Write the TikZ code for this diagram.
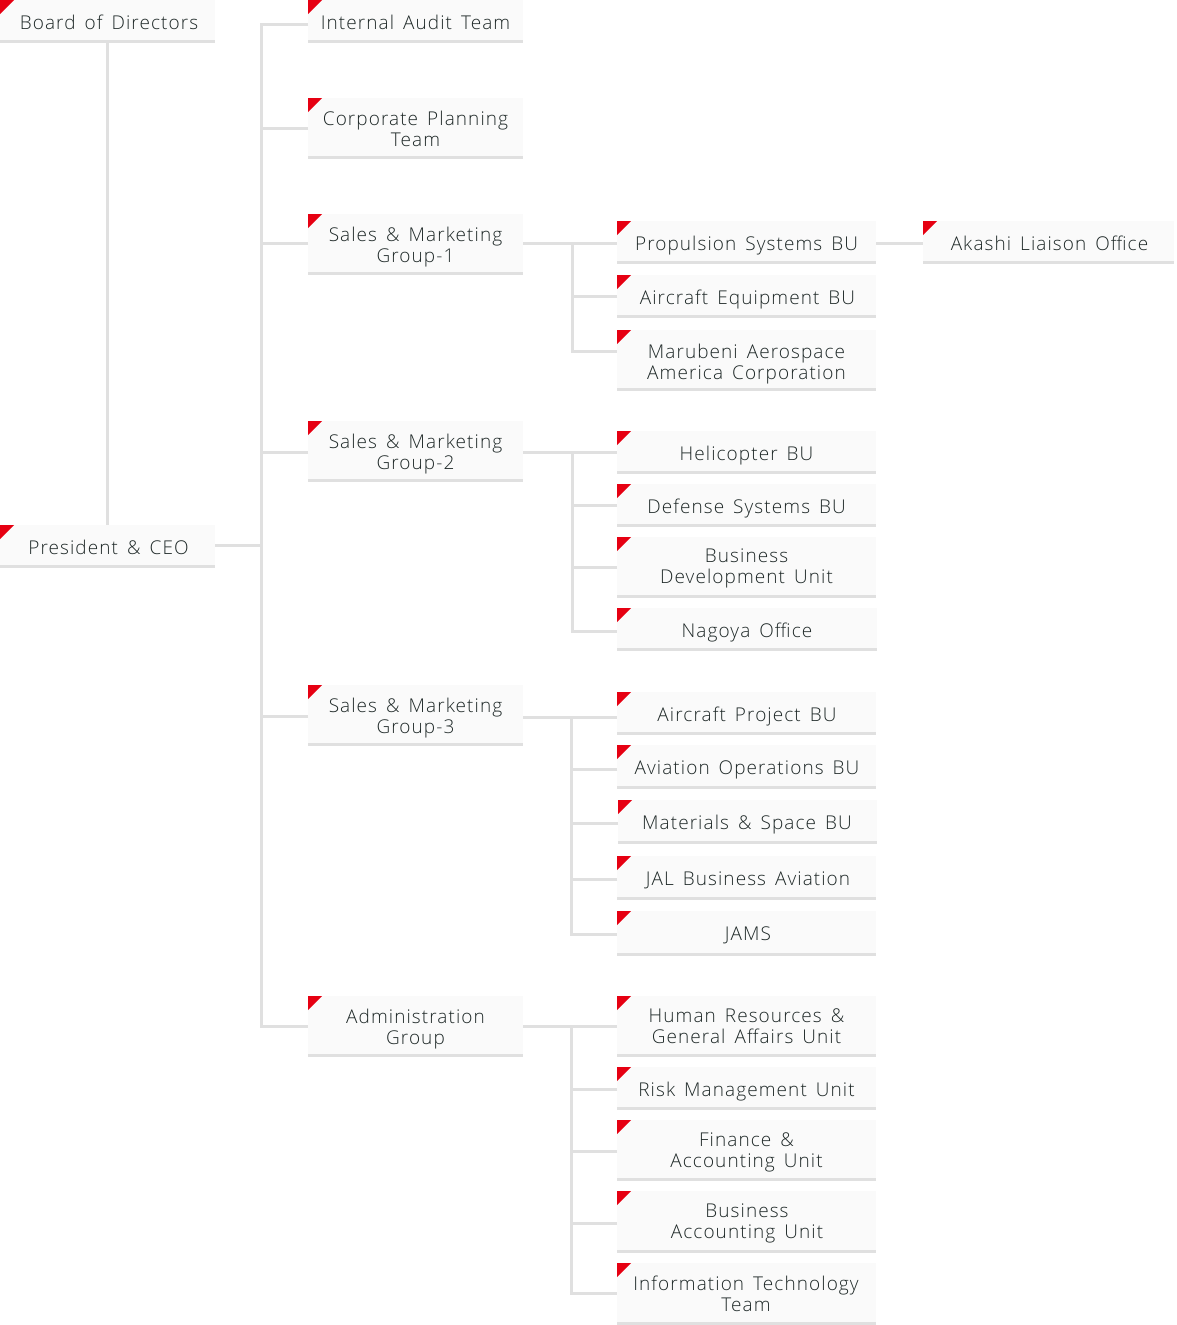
\documentclass[tikz,border=0pt]{standalone}
\usepackage{fontspec}
\setmainfont[LetterSpace=5.7,WordSpace=1.5]{Open Sans Light}
\definecolor{boxfill}{HTML}{FAFAFA}
\definecolor{rulegray}{HTML}{E0E0E0}
\definecolor{flagred}{HTML}{E60012}
\definecolor{inkcol}{HTML}{1F2928}
\tikzset{
  orgbox/.style={rectangle,fill=boxfill,inner sep=0pt,outer sep=0pt,anchor=north west,
    text=inkcol,font=\fontsize{19pt}{21pt}\selectfont,
    path picture={
      \fill[rulegray] ([yshift=3pt]path picture bounding box.south west) rectangle (path picture bounding box.south east);
      \fill[flagred] (path picture bounding box.north west) -- ([xshift=14pt]path picture bounding box.north west) -- ([yshift=-14pt]path picture bounding box.north west) -- cycle;
    }},
  conn/.style={draw=rulegray,line width=3pt,line join=miter}
}
% name, x1, y1, x2, y2, text drop, text x shift (doubled kern), text
\newcommand{\orgnode}[8]{%
  \pgfmathsetmacro{\bw}{#4-#2}\pgfmathsetmacro{\bh}{#5-#3}%
  \node[orgbox,minimum width=\bw pt,minimum height=\bh pt] (#1) at (#2,#3) {\kern#7pt\raisebox{-#6pt}[\height][\depth]{\begin{tabular}{@{}c@{}}#8\end{tabular}}};}
\begin{document}
\begin{tikzpicture}[x=1pt,y=-1pt]
\useasboundingbox (0,0) rectangle (1176,1325);
\orgnode{board}{0}{0}{215}{43}{4}{3}{Board of Directors}
\orgnode{pres}{0}{525}{215}{568}{4}{2}{President \& CEO}
\orgnode{audit}{308}{0}{523}{43}{4}{0}{Internal Audit Team}
\orgnode{plan}{308}{98}{523}{159}{3}{0}{Corporate Planning\\Team}
\orgnode{gone}{308}{214}{523}{275}{3}{0}{Sales \& Marketing\\Group-1}
\orgnode{gtwo}{308}{421}{523}{482}{3}{0}{Sales \& Marketing\\Group-2}
\orgnode{gthree}{308}{685}{523}{746}{3}{0}{Sales \& Marketing\\Group-3}
\orgnode{admin}{308}{996}{523}{1057}{3}{0}{Administration\\Group}
\orgnode{prop}{617}{221}{876}{264}{4}{0}{Propulsion Systems BU}
\orgnode{equip}{617}{275}{876}{318}{4}{2}{Aircraft Equipment BU}
\orgnode{maru}{617}{330}{876}{391}{4}{0}{Marubeni Aerospace\\America Corporation}
\orgnode{akashi}{923}{221}{1174}{264}{4}{2}{Akashi Liaison Office}
\orgnode{heli}{617}{431}{876}{474}{4}{0}{Helicopter BU}
\orgnode{defense}{617}{484}{876}{527}{4}{0}{Defense Systems BU}
\orgnode{bizdev}{617}{537}{876}{598}{1}{0}{Business\\Development Unit}
\orgnode{nagoya}{617}{608}{877}{651}{4}{0}{Nagoya Office}
\orgnode{project}{617}{692}{876}{735}{4}{1}{Aircraft Project BU}
\orgnode{avia}{617}{745}{876}{789}{3}{1}{Aviation Operations BU}
\orgnode{material}{618}{800}{877}{844}{3}{-1}{Materials \& Space BU}
\orgnode{jal}{617}{856}{876}{900}{3}{3}{JAL Business Aviation}
\orgnode{jams}{617}{911}{876}{956}{3}{3}{JAMS}
\orgnode{human}{617}{996}{876}{1057}{2}{0}{Human Resources \&\\General Affairs Unit}
\orgnode{risk}{617}{1067}{876}{1110}{4}{0}{Risk Management Unit}
\orgnode{finance}{617}{1120}{876}{1181}{2}{0}{Finance \&\\Accounting Unit}
\orgnode{bizacc}{617}{1191}{876}{1253}{2}{1}{Business\\Accounting Unit}
\orgnode{infotech}{617}{1263}{876}{1325}{3}{-1}{Information Technology\\Team}
\coordinate (trunk) at (261.5,500);
\coordinate (busone) at (572,300);
\coordinate (bustwo) at (572,500);
\coordinate (busthree) at (571,800);
\coordinate (busfour) at (571,1100);
\newcommand{\stub}[3]{\draw[conn] (#1.west |- 0,#3) -- (#2 |- 0,#3);}
\draw[conn] (board.south) -- (pres.north);
\draw[conn] (audit.west |- 0,24) -| (trunk) |- (admin.west |- 0,1026);
\draw[conn] (pres.east |- 0,545.5) -- (trunk |- 0,545.5);
\stub{plan}{trunk}{128}
\stub{gone}{trunk}{243}
\stub{gtwo}{trunk}{452}
\stub{gthree}{trunk}{716}
% group 1
\draw[conn] (gone.east |- 0,243.5) -- (prop.west |- 0,243.5);
\draw[conn] (prop.east |- 0,243.5) -- (akashi.west |- 0,243.5);
\draw[conn] (busone |- 0,243.5) |- (maru.west |- 0,351.5);
\stub{equip}{busone}{296.5}
% group 2
\draw[conn] (gtwo.east |- 0,452.5) -- (heli.west |- 0,452.5);
\draw[conn] (bustwo |- 0,452.5) |- (nagoya.west |- 0,631);
\stub{defense}{bustwo}{505.5}
\stub{bizdev}{bustwo}{567.5}
% group 3
\draw[conn] (gthree.east |- 0,717) -- (project.west |- 0,717);
\draw[conn] (busthree |- 0,717) |- (jams.west |- 0,934.5);
\stub{avia}{busthree}{769.5}
\stub{material}{busthree}{823.5}
\stub{jal}{busthree}{879}
% admin
\draw[conn] (admin.east |- 0,1026) -- (human.west |- 0,1026);
\draw[conn] (busfour |- 0,1026) |- (infotech.west |- 0,1293);
\stub{risk}{busfour}{1089}
\stub{finance}{busfour}{1151}
\stub{bizacc}{busfour}{1223}
\end{tikzpicture}
\end{document}
